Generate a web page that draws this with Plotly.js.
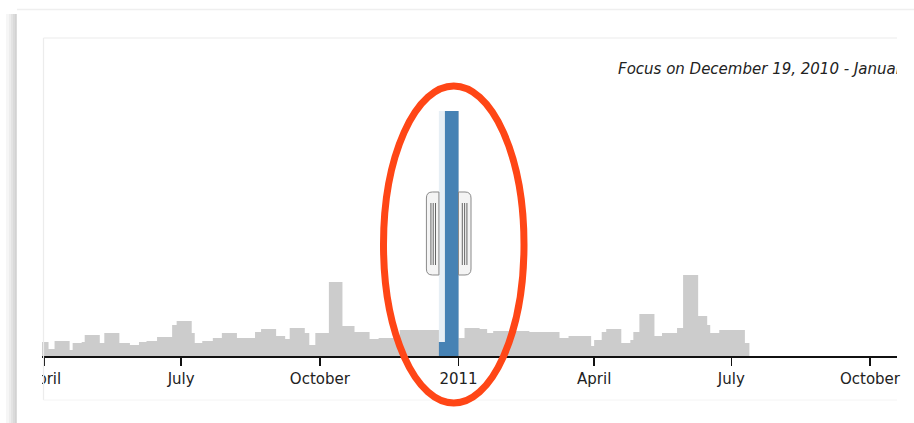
<!DOCTYPE html>
<html>
<head>
<meta charset="utf-8">
<script src="https://cdn.plot.ly/plotly-3.0.1.min.js"></script>
<style>
  html, body { margin: 0; padding: 0; background: #ffffff; }
  #chart { width: 914px; height: 423px; }
</style>
</head>
<body>
<div id="chart"></div>
<script>
// ---- data (weekly-ish activity, step series) ----
const dates = [
  '2010-03-26','2010-04-04','2010-04-08','2010-04-18','2010-04-20','2010-04-26','2010-04-28',
  '2010-05-08','2010-05-11','2010-05-21','2010-05-28','2010-06-03','2010-06-08','2010-06-15',
  '2010-06-25','2010-06-28','2010-07-08','2010-07-10','2010-07-15','2010-07-22','2010-07-28',
  '2010-08-07','2010-08-19','2010-08-23','2010-09-02','2010-09-08','2010-09-11','2010-09-21',
  '2010-09-24','2010-09-28','2010-10-07','2010-10-16','2010-10-24','2010-11-03','2010-11-09',
  '2010-11-23','2010-12-19','2010-12-23','2011-01-01','2011-01-05','2011-01-15','2011-01-20',
  '2011-01-24','2011-02-17','2011-03-09','2011-03-15','2011-03-30','2011-04-01','2011-04-06',
  '2011-04-09','2011-04-19','2011-04-25','2011-04-27','2011-05-01','2011-05-11','2011-05-16',
  '2011-05-26','2011-05-30','2011-06-09','2011-06-15','2011-06-17','2011-06-23','2011-07-10',
  '2011-07-13'
];
const values = [
  14, 7, 15, 6, 13, 14, 21,
  13, 23, 13, 11, 14, 15, 19,
  31, 35, 23, 13, 15, 18, 23,
  18, 24, 27, 20, 17, 28, 23,
  11, 23, 74, 30, 24, 17, 18,
  26, 14, 245, 18, 28, 27, 23,
  25, 24, 18, 20, 10, 16, 24,
  27, 13, 16, 24, 42, 20, 23,
  28, 81, 40, 31, 23, 26, 13,
  0
];
const brushExtent = ['2010-12-19', '2011-01-01'];
const tickVals = ['2010-04-01','2010-07-01','2010-10-01','2011-01-01','2011-04-01','2011-07-01','2011-10-01'];
const tickText = ['April','July','October','2011','April','July','October'];
const xRange = ['2010-03-30 16:00', '2011-10-18 22:00'];
const yMaxFocus = 245;

// ---- geometry helpers ----
const W = 914, H = 423, ML = 42, MR = 17, MT = 40, MB = 67;
const PW = W - ML - MR, PH = H - MT - MB;
const yTop = PH; // y range [0, PH]
const px2paperX = px => (px - ML) / PW;
const px2paperY = py => (H - MB - py) / PH;
const t0 = new Date(xRange[0].replace(' ', 'T') + ':00Z').getTime();
const t1 = new Date(xRange[1].replace(' ', 'T') + ':00Z').getTime();
const px2date = px => new Date(t0 + (px - ML) / PW * (t1 - t0)).toISOString().slice(0, 16).replace('T', ' ');
const date2px = d => ML + (new Date(d + 'T00:00:00Z').getTime() - t0) / (t1 - t0) * PW;

// ---- focus (clipped) series built from the data ----
const bs = new Date(brushExtent[0]).getTime(), be = new Date(brushExtent[1]).getTime();
let fx = [], fy = [];
let startVal = 0;
for (let i = 0; i < dates.length; i++) {
  const t = new Date(dates[i]).getTime();
  if (t <= bs) startVal = values[i];
}
fx.push(brushExtent[0]); fy.push(startVal);
let lastVal = startVal;
for (let i = 0; i < dates.length; i++) {
  const t = new Date(dates[i]).getTime();
  if (t > bs && t < be) { fx.push(dates[i]); fy.push(values[i]); lastVal = values[i]; }
}
fx.push(brushExtent[1]); fy.push(lastVal);

const months = ['January','February','March','April','May','June','July','August','September','October','November','December'];
const fmt = s => { const d = new Date(s + 'T00:00:00Z'); return months[d.getUTCMonth()] + ' ' + d.getUTCDate() + ', ' + d.getUTCFullYear(); };
const focusLabel = 'Focus on ' + fmt(brushExtent[0]) + ' - ' + fmt(brushExtent[1]);

const traces = [
  { x: dates, y: values, type: 'scatter', mode: 'lines', line: { shape: 'hv', width: 0, color: '#cccccc' },
    fill: 'tozeroy', fillcolor: '#cccccc', hoverinfo: 'skip', showlegend: false },
  { x: fx, y: fy, type: 'scatter', mode: 'lines', line: { shape: 'hv', width: 0, color: 'steelblue' },
    fill: 'tozeroy', fillcolor: 'steelblue', hoverinfo: 'skip', showlegend: false },
  { x: [px2date(618)], y: [H - MB - 70], type: 'scatter', mode: 'text', text: [focusLabel],
    textposition: 'middle right', cliponaxis: true, hoverinfo: 'skip', showlegend: false,
    textfont: { family: 'DejaVu Sans', size: 15, style: 'italic', color: '#222' } }
];

// ---- shapes ----
const shapes = [];
// brush extent
shapes.push({ type: 'rect', xref: 'x', yref: 'y', x0: brushExtent[0], x1: brushExtent[1], y0: 0, y1: yMaxFocus,
  fillcolor: 'rgba(70,130,180,0.13)', line: { width: 0 }, layer: 'below' });
// cover clipped tick label area at the left edge
shapes.push({ type: 'rect', xref: 'paper', yref: 'paper', x0: px2paperX(0), x1: px2paperX(42), y0: px2paperY(423), y1: px2paperY(357.5),
  fillcolor: '#ffffff', line: { width: 0 }, layer: 'above' });
// outer frame shadow (left) and top edge
const shadow = [[6, 9, '#f6f6f6'], [9, 11, '#ededed'], [11, 13, '#e3e3e3'], [13, 15, '#dadada'], [15, 16.8, '#d2d2d2']];
shadow.forEach(s => shapes.push({ type: 'rect', xref: 'paper', yref: 'paper', x0: px2paperX(s[0]), x1: px2paperX(s[1]),
  y0: px2paperY(423), y1: px2paperY(14), fillcolor: s[2], line: { width: 0 }, layer: 'above' }));
shapes.push({ type: 'line', xref: 'paper', yref: 'paper', x0: px2paperX(17), x1: px2paperX(914), y0: px2paperY(9.5), y1: px2paperY(9.5),
  line: { color: '#efefef', width: 1.5 }, layer: 'above' });
// inner panel border
shapes.push({ type: 'line', xref: 'paper', yref: 'paper', x0: px2paperX(43.5), x1: px2paperX(43.5), y0: px2paperY(400), y1: px2paperY(38),
  line: { color: '#ececec', width: 1.2 }, layer: 'above' });
shapes.push({ type: 'line', xref: 'paper', yref: 'paper', x0: px2paperX(43.5), x1: px2paperX(897), y0: px2paperY(38), y1: px2paperY(38),
  line: { color: '#ececec', width: 1.2 }, layer: 'above' });
shapes.push({ type: 'line', xref: 'paper', yref: 'paper', x0: px2paperX(43.5), x1: px2paperX(897), y0: px2paperY(400), y1: px2paperY(400),
  line: { color: '#f4f4f4', width: 1 }, layer: 'above' });

// brush handles
function handle(edgePx, side) {
  const w = 12.5, r = 6, top = 192, bot = 275;
  const P = (x, y) => px2paperX(x).toFixed(5) + ',' + px2paperY(y).toFixed(5);
  let d;
  if (side === 'left') {
    const xl = edgePx - w, xr = edgePx;
    d = 'M' + P(xr, top) + ' L' + P(xl + r, top) + ' Q' + P(xl, top) + ' ' + P(xl, top + r) +
        ' L' + P(xl, bot - r) + ' Q' + P(xl, bot) + ' ' + P(xl + r, bot) + ' L' + P(xr, bot) + ' Z';
  } else {
    const xl = edgePx, xr = edgePx + w;
    d = 'M' + P(xl, top) + ' L' + P(xr - r, top) + ' Q' + P(xr, top) + ' ' + P(xr, top + r) +
        ' L' + P(xr, bot - r) + ' Q' + P(xr, bot) + ' ' + P(xr - r, bot) + ' L' + P(xl, bot) + ' Z';
  }
  shapes.push({ type: 'path', xref: 'paper', yref: 'paper', path: d, fillcolor: '#f4f4f4',
    line: { color: '#8a8a8a', width: 1 }, layer: 'above' });
  const base = side === 'left' ? edgePx - 8 : edgePx + 3.8;
  [0, 2.3, 4.6].forEach(o => shapes.push({ type: 'line', xref: 'paper', yref: 'paper',
    x0: px2paperX(base + o), x1: px2paperX(base + o), y0: px2paperY(203), y1: px2paperY(265),
    line: { color: '#666666', width: 1 }, layer: 'above' }));
}
handle(date2px(brushExtent[0]), 'left');
handle(date2px(brushExtent[1]), 'right');

// red highlight ellipse
shapes.push({ type: 'circle', xref: 'paper', yref: 'paper', x0: px2paperX(383.5), x1: px2paperX(524), y0: px2paperY(403), y1: px2paperY(86),
  line: { color: 'rgb(255,70,22)', width: 7 }, fillcolor: 'rgba(0,0,0,0)', layer: 'above' });

const layout = {
  width: W, height: H,
  margin: { l: ML, r: MR, t: MT, b: MB, pad: 0 },
  paper_bgcolor: '#ffffff', plot_bgcolor: '#ffffff',
  showlegend: false,
  xaxis: { type: 'date', range: xRange, tickvals: tickVals, ticktext: tickText,
    showgrid: false, zeroline: false, showline: true, linecolor: '#111', linewidth: 1.6,
    ticks: 'outside', ticklen: 8, tickwidth: 1.5, tickcolor: '#111',
    tickfont: { family: 'DejaVu Sans', size: 15, color: '#222' }, fixedrange: true },
  yaxis: { range: [0, yTop], visible: false, showgrid: false, zeroline: false, fixedrange: true },
  shapes: shapes
};

Plotly.newPlot('chart', traces, layout, { staticPlot: true, displayModeBar: false });
</script>
</body>
</html>
